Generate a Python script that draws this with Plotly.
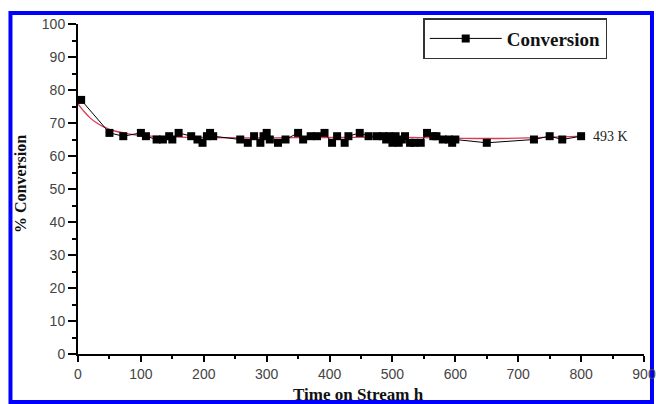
import plotly.graph_objects as go

# Data
time_h = [5, 50, 72, 100, 108, 125, 135, 145, 150, 160, 180, 190, 198, 205, 210,
          215, 258, 270, 280, 290, 295, 300, 305, 318, 330, 350, 358, 370, 380, 392,
          404, 412, 424, 430, 448, 462, 475, 485, 490, 495, 500, 505, 510, 515, 520,
          528, 535, 545, 555, 565, 570, 580, 590, 595, 600, 650, 725, 750, 770, 800]
conversion = [77, 67, 66, 67, 66, 65, 65, 66, 65, 67, 66, 65, 64, 66, 67,
              66, 65, 64, 66, 64, 66, 67, 65, 64, 65, 67, 65, 66, 66, 67,
              64, 66, 64, 66, 67, 66, 66, 66, 65, 66, 64, 66, 64, 65, 66,
              64, 64, 64, 67, 66, 66, 65, 65, 64, 65, 64, 65, 66, 65, 66]

fit_x = [0, 10, 20, 30, 40, 50, 60, 80, 100, 150, 200, 300, 400, 500, 600, 650, 700, 800]
fit_y = [75.8, 73.4, 71.4, 70.0, 68.9, 68.1, 67.5, 66.7, 66.2, 65.8, 65.6, 65.5,
         65.6, 65.7, 65.4, 65.3, 65.4, 66.0]

x_ticks = [0, 100, 200, 300, 400, 500, 600, 700, 800, 900]
y_ticks = [0, 10, 20, 30, 40, 50, 60, 70, 80, 90, 100]

SERIF = "Liberation Serif, Times New Roman, serif"
SANS = "Liberation Sans, Arial, sans-serif"

fig = go.Figure()
fig.add_trace(go.Scatter(
    x=fit_x, y=fit_y, mode="lines", showlegend=False,
    line=dict(color="#dc3a58", width=1.3, shape="spline", smoothing=1.0),
    hoverinfo="skip"))
fig.add_trace(go.Scatter(
    x=time_h, y=conversion, mode="lines+markers", name="<b>Conversion</b>",
    line=dict(color="black", width=1),
    marker=dict(symbol="square", size=8, color="black")))

fig.update_layout(
    width=656, height=404,
    margin=dict(l=78, r=12, t=24, b=50),
    paper_bgcolor="white", plot_bgcolor="white",
    showlegend=True,
    legend=dict(x=0.935, y=1.018, xanchor="right", yanchor="top",
                bordercolor="#333333", borderwidth=1.5, bgcolor="white",
                font=dict(family=SERIF, size=19, color="#111111"),
                itemwidth=72, tracegroupgap=0),
    xaxis=dict(range=[0, 900], tickvals=x_ticks, ticks="outside", ticklen=6,
               tickwidth=2, tickcolor="black", showline=True, linecolor="black",
               linewidth=2, showgrid=False, zeroline=False, automargin=False,
               tickfont=dict(family=SANS, size=14, color="#444444"),
               minor=dict(dtick=50, ticks="outside", ticklen=3, tickwidth=2,
                          tickcolor="black", showgrid=False)),
    yaxis=dict(range=[0, 100], tickvals=y_ticks, ticks="outside", ticklen=8,
               tickwidth=2, tickcolor="black", showline=True, linecolor="black",
               linewidth=2, showgrid=False, zeroline=False, automargin=False,
               tickfont=dict(family=SANS, size=14, color="#444444"),
               minor=dict(dtick=5, ticks="outside", ticklen=4, tickwidth=2,
                          tickcolor="black", showgrid=False)),
    annotations=[
        dict(text="493 K", x=815, y=66, xref="x", yref="y", xanchor="left",
             yanchor="middle", showarrow=False,
             font=dict(family=SERIF, size=14, color="#222222")),
        dict(text="<b>Time on Stream h</b>", x=0.496, y=-0.122, xref="paper",
             yref="paper", xanchor="center", yanchor="middle", showarrow=False,
             font=dict(family=SERIF, size=17, color="#111111")),
        dict(text="<b>% Conversion</b>", x=-0.1025, y=0.515, xref="paper",
             yref="paper", xanchor="center", yanchor="middle", showarrow=False,
             textangle=-90, font=dict(family=SERIF, size=16, color="#111111")),
    ],
    shapes=[
        dict(type="rect", xref="paper", yref="paper",
             x0=-0.1193, x1=1.0141, y0=-0.1455, y1=1.0333,
             line=dict(color="#0000ff", width=4), fillcolor="rgba(0,0,0,0)",
             layer="below"),
    ],
)

fig.write_html("out.html",
               config={"displayModeBar": False},
               post_script="document.body.style.margin='0px';document.body.style.overflow='hidden';")
